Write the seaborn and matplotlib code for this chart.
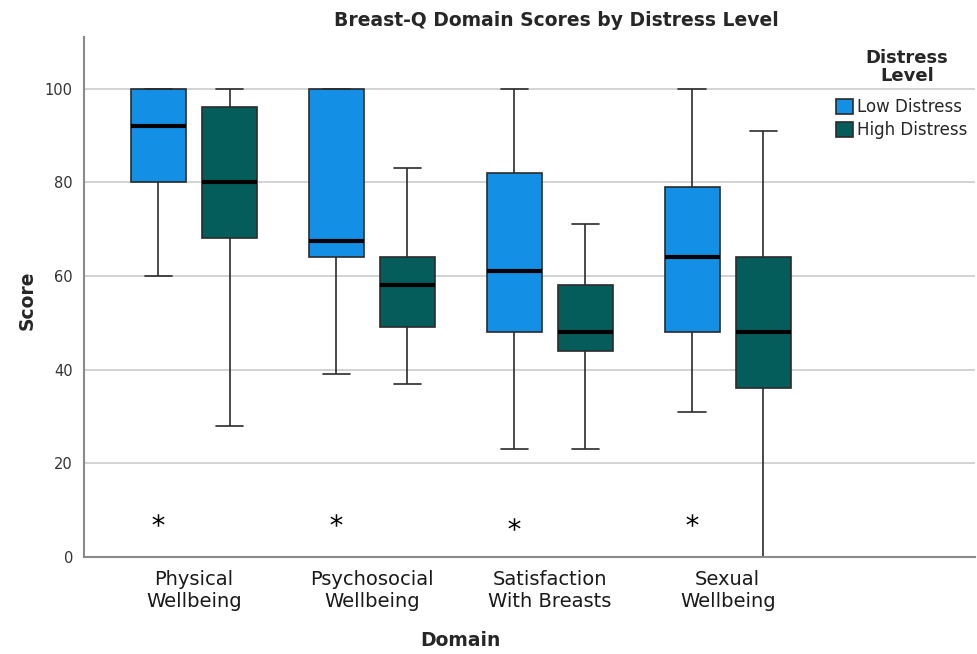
import numpy as np
import pandas as pd
import seaborn as sns
import matplotlib.pyplot as plt

# Categories
domains = ["Physical\nWellbeing", "Psychosocial\nWellbeing",
           "Satisfaction\nWith Breasts", "Sexual\nWellbeing"]
levels = ["Low Distress", "High Distress"]

# Five-number summaries: min, q1, median, q3, max
low_summary = [
    [60, 80, 92, 100, 100],
    [39, 64, 67.5, 100, 100],
    [23, 48, 61, 82, 100],
    [31, 48, 64, 79, 100],
]
high_summary = [
    [28, 68, 80, 96, 100],
    [37, 49, 58, 64, 83],
    [23, 44, 48, 58, 71],
    [0, 36, 48, 64, 91],
]
# Extreme values (SPSS asterisks), Low Distress group only
low_extremes = [8, 8, 7, 8]

palette = {"Low Distress": "#1390e6", "High Distress": "#045d5b"}

# Build long-form tables
rows = []
for lvl, summ in zip(levels, [low_summary, high_summary]):
    for dom, vals in zip(domains, summ):
        for v in vals:
            rows.append({"Domain": dom, "Distress Level": lvl, "Score": v})
df = pd.DataFrame(rows)

ext_df = pd.DataFrame({"Domain": domains,
                       "Distress Level": ["Low Distress"] * len(domains),
                       "Score": low_extremes})

sns.set_theme(style="white")
plt.rcParams['font.family'] = ['DejaVu Sans']

fig = plt.figure(figsize=(9.78, 6.54), dpi=100)
ax = fig.add_axes([0.0859, 0.1483, 0.9111, 0.7951])

sns.boxplot(data=df, x="Domain", y="Score", hue="Distress Level",
            order=domains, hue_order=levels, palette=palette,
            whis=np.inf, width=0.8, gap=0.23, linewidth=1.2,
            linecolor="#2b2b2b", saturation=1,
            medianprops=dict(color="black", linewidth=3), ax=ax)

sns.stripplot(data=ext_df, x="Domain", y="Score", hue="Distress Level",
              order=domains, hue_order=levels, dodge=True, jitter=False,
              marker="$*$", size=9, palette={l: "black" for l in levels},
              legend=False, ax=ax)

ax.set_xlim(-0.618, 4.39)
ax.set_ylim(0, 111)
ax.set_yticks([0, 20, 40, 60, 80, 100])
ax.yaxis.grid(True, color="#cccccc", linewidth=1.2)
ax.set_axisbelow(True)
for s in ["top", "right"]:
    ax.spines[s].set_visible(False)
for s in ["left", "bottom"]:
    ax.spines[s].set_color("#8a8a8a")
    ax.spines[s].set_linewidth(1.5)
ax.tick_params(axis="both", length=0)
ax.tick_params(axis="x", pad=9, labelsize=14, labelcolor="#1a1a1a")
ax.tick_params(axis="y", pad=8, labelsize=10.5, labelcolor="#333333")
ax.set_xlabel("")
ax.set_ylabel("")

fig.text(556 / 978, 1 - 20 / 654, "Breast-Q Domain Scores by Distress Level",
         ha="center", va="center", fontsize=13.5, fontweight="bold")
fig.text(27 / 978, 1 - 300 / 654, "Score", rotation=90,
         ha="center", va="center", fontsize=13.5, fontweight="bold")
fig.text(460 / 978, 1 - 640 / 654, "Domain",
         ha="center", va="center", fontsize=13.5, fontweight="bold")

# Legend entries, with the title drawn as separate centred text
sns.move_legend(ax, loc="upper left", bbox_to_anchor=(836 / 978, 1 - 98 / 654),
                bbox_transform=fig.transFigure, title=None,
                frameon=False, fontsize=12, handlelength=1.05, handleheight=1.05,
                handletextpad=0.2, labelspacing=0.3, borderaxespad=0,
                borderpad=0)
fig.text(907 / 978, 1 - 67 / 654, "Distress\nLevel", ha="center", va="center",
         fontsize=13, fontweight="bold", linespacing=1.0, multialignment="center")

fig.savefig("out.png", dpi=100)
